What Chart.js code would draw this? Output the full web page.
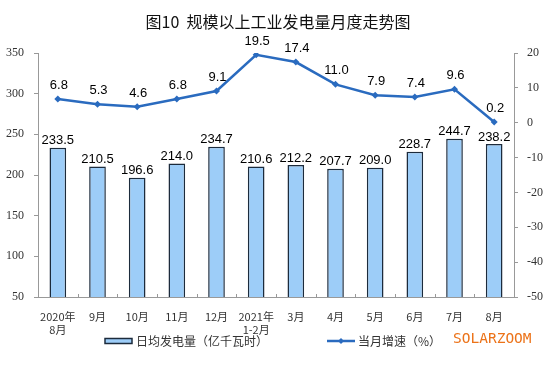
<!DOCTYPE html>
<html>
<head>
<meta charset="utf-8">
<script src="https://cdn.jsdelivr.net/npm/chart.js@4/dist/chart.umd.min.js"></script>
<style>
  html, body { margin: 0; padding: 0; background: #fff; }
  #wrap { position: relative; width: 554px; height: 374px; }
</style>
</head>
<body>
<div id="wrap"><canvas id="c" width="554" height="374"></canvas></div>
<script>
// 月份
const months = [['2020年', '8月'], '9月', '10月', '11月', '12月', ['2021年', '1-2月'], '3月', '4月', '5月', '6月', '7月', '8月'];
// 日均发电量（亿千瓦时）
const dailyOutput = [233.5, 210.5, 196.6, 214.0, 234.7, 210.6, 212.2, 207.7, 209.0, 228.7, 244.7, 238.2];
// 当月增速（%）
const growth = [6.8, 5.3, 4.6, 6.8, 9.1, 19.5, 17.4, 11.0, 7.9, 7.4, 9.6, 0.2];
const leftTicks = [50, 100, 150, 200, 250, 300, 350];
const rightTicks = [-50, -40, -30, -20, -10, 0, 10, 20];

const barFill = '#9dcdf8', barEdge = '#1c2b3c', lineBlue = '#2a6bbf';
const cjk = '"Noto Sans CJK SC", sans-serif';

// 标题、数值标签、图例
const decor = {
    id: 'decor',
    afterDatasetsDraw(chart) {
        const ctx = chart.ctx, x = chart.scales.x, area = chart.chartArea;
        ctx.save();
        // x轴内侧刻度
        ctx.strokeStyle = '#999'; ctx.lineWidth = 1;
        for (let i = 0; i <= months.length; i++) {
            const px = Math.round(x.getPixelForValue(i - 0.5)) + 0.5;
            ctx.beginPath(); ctx.moveTo(px, area.bottom); ctx.lineTo(px, area.bottom - 3); ctx.stroke();
        }
        // 数值标签
        ctx.fillStyle = '#000';
        ctx.font = '13px "Liberation Sans", Arial, sans-serif';
        ctx.textAlign = 'center'; ctx.textBaseline = 'bottom';
        chart.getDatasetMeta(0).data.forEach((b, i) => ctx.fillText(dailyOutput[i].toFixed(1), b.x, b.y - 0.5));
        chart.getDatasetMeta(1).data.forEach((p, i) => ctx.fillText(growth[i].toFixed(1), p.x + 1, p.y - 7));
        ctx.restore();
    },
    afterDraw(chart) {
        const ctx = chart.ctx;
        ctx.save();
        ctx.fillStyle = '#111';
        ctx.font = '16px ' + cjk;
        ctx.textAlign = 'center'; ctx.textBaseline = 'middle';
        ctx.fillText('图10  规模以上工业发电量月度走势图', 278, 22);

        // 图例
        ctx.fillStyle = barFill; ctx.strokeStyle = barEdge; ctx.lineWidth = 1.5;
        ctx.fillRect(105, 338.5, 27, 5); ctx.strokeRect(105, 338.5, 27, 5);
        ctx.strokeStyle = lineBlue; ctx.lineWidth = 2.5;
        ctx.beginPath(); ctx.moveTo(327, 341); ctx.lineTo(355, 341); ctx.stroke();
        ctx.fillStyle = lineBlue;
        ctx.beginPath(); ctx.moveTo(341, 338); ctx.lineTo(344, 341); ctx.lineTo(341, 344); ctx.lineTo(338, 341); ctx.closePath(); ctx.fill();

        ctx.fillStyle = '#333'; ctx.font = '12px ' + cjk;
        ctx.textAlign = 'left';
        ctx.fillText('日均发电量（亿千瓦时）', 136, 341);
        ctx.fillText('当月增速（%）', 358, 341);

        ctx.fillStyle = '#ec7319';
        ctx.font = '14.5px "DejaVu Sans Mono", monospace';
        ctx.fillText('SOLARZOOM', 453, 339);
        ctx.restore();
    }
};

new Chart(document.getElementById('c'), {
    data: {
        labels: months,
        datasets: [
            {
                type: 'bar', label: '日均发电量（亿千瓦时）', data: dailyOutput, yAxisID: 'y',
                backgroundColor: barFill, borderColor: barEdge, borderWidth: 1.5,
                barPercentage: 0.42, categoryPercentage: 1, order: 2
            },
            {
                type: 'line', label: '当月增速（%）', data: growth, yAxisID: 'y1',
                borderColor: lineBlue, backgroundColor: lineBlue, borderWidth: 2.5,
                pointStyle: 'rectRot', pointRadius: 3.5, pointBorderWidth: 0,
                tension: 0, order: 1
            }
        ]
    },
    options: {
        responsive: false,
        animation: false,
        events: [],
        layout: { padding: { top: 53, bottom: 0, left: 0, right: 0 } },
        plugins: { legend: { display: false }, title: { display: false }, tooltip: { enabled: false } },
        scales: {
            x: {
                offset: true,
                grid: { display: false },
                border: { color: '#999' },
                ticks: { color: '#333', font: { family: cjk, size: 11 }, padding: 5, maxRotation: 0, autoSkip: false },
                afterFit: s => { s.height = 77; }
            },
            y: {
                position: 'left', min: 50, max: 350,
                afterBuildTicks: s => { s.ticks = leftTicks.map(v => ({ value: v })); },
                grid: { drawOnChartArea: false, tickLength: 4, color: '#999' },
                border: { color: '#999' },
                ticks: { color: '#333', font: { family: '"Liberation Serif", serif', size: 12 }, padding: 10 },
                afterFit: s => { s.width = 38; }
            },
            y1: {
                position: 'right', min: -50, max: 20,
                afterBuildTicks: s => { s.ticks = rightTicks.map(v => ({ value: v })); },
                grid: { drawOnChartArea: false, tickLength: 4, color: '#999' },
                border: { color: '#999' },
                ticks: { color: '#333', font: { family: '"Liberation Serif", serif', size: 12 }, padding: 9 },
                afterFit: s => { s.width = 40; }
            }
        }
    },
    plugins: [decor]
});
</script>
</body>
</html>
